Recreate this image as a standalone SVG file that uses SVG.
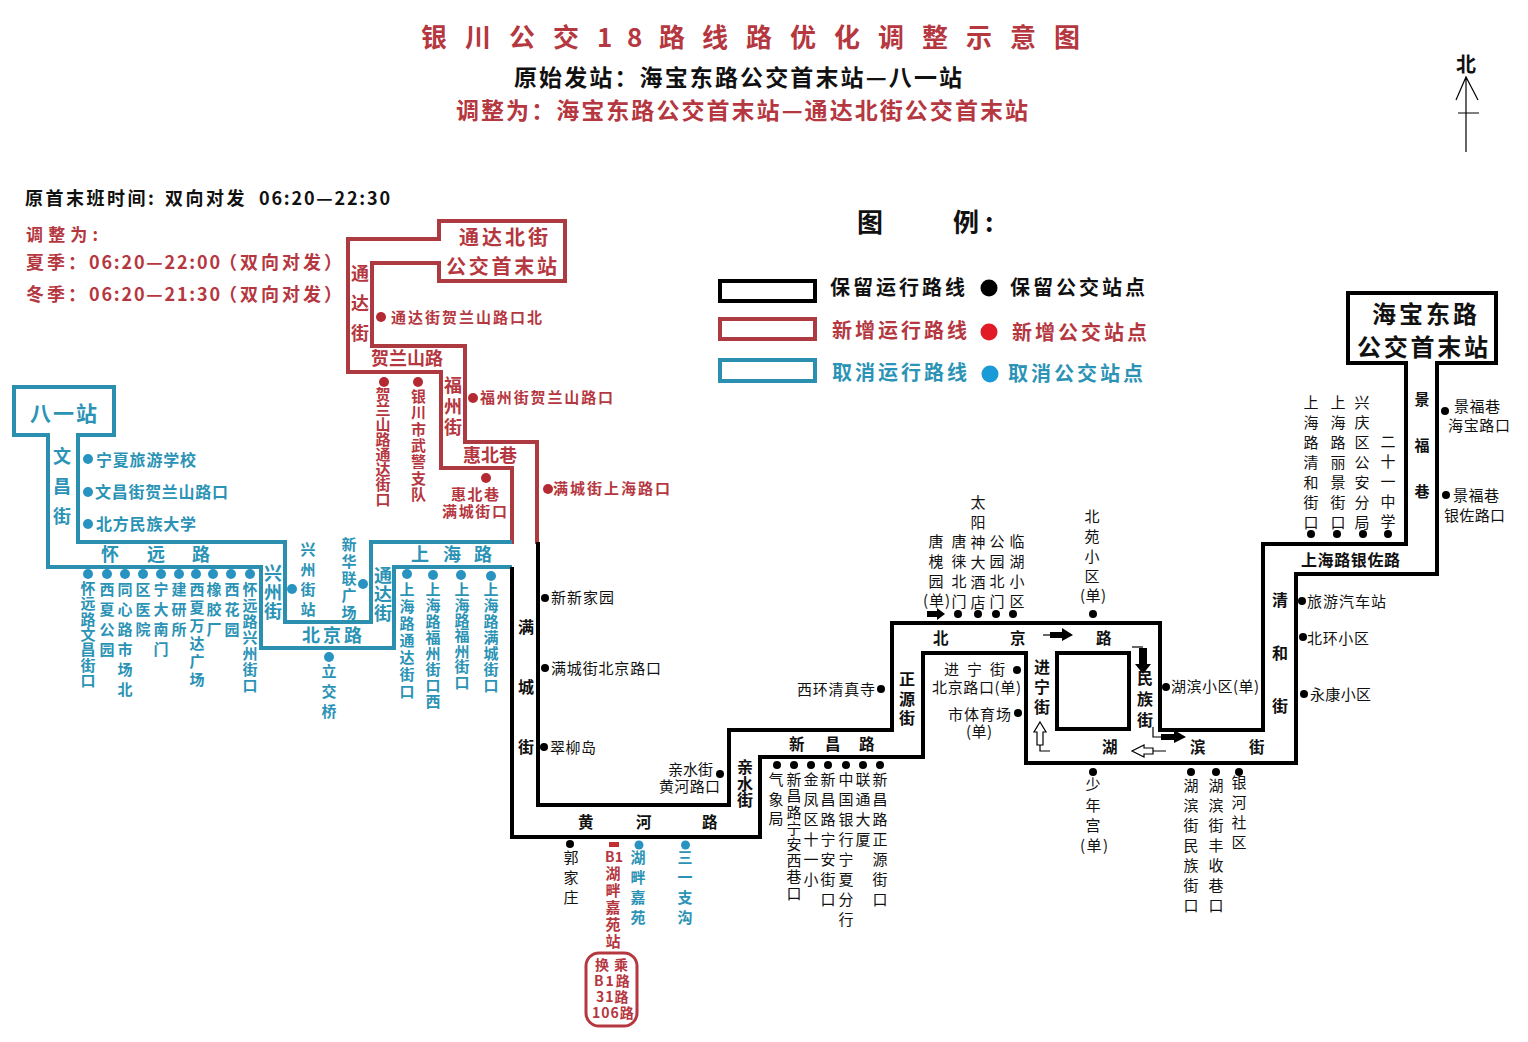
<svg xmlns="http://www.w3.org/2000/svg" width="1528" height="1042" viewBox="0 0 1528 1042">
<style>
text{font-family:"Noto Sans CJK SC","Noto Sans",sans-serif;font-size:15px;fill:#111}
.v{writing-mode:vertical-rl}
.bd{font-weight:700}
.md{font-weight:500}
.r{fill:#b5373f;font-weight:700}
.b{fill:#2b93b5;font-weight:700}
.route{fill:none;stroke-width:4;stroke-linejoin:miter}
.kl{stroke:#000}.rl{stroke:#ad3a40}.bl{stroke:#2b8fb0}
circle.k{fill:#000}circle.rd{fill:#b52a32}circle.bu{fill:#2893c0}
.thin{fill:none;stroke:#000;stroke-width:1.2}
.white{fill:#fff;stroke:#000;stroke-width:1.2}
</style>
<rect width="1528" height="1042" fill="#fff"/>

<g id="title">
<text class="r" style="font-size:26px" y="47" x="421 465 509 553 597 627 659 702 746 790 834 878 922 966 1010 1054">银川公交18路线路优化调整示意图</text>
<text class="bd" style="font-size:23px" x="514" y="86" textLength="448" lengthAdjust="spacing">原始发站：海宝东路公交首末站—八一站</text>
<text class="r" style="font-size:23px" x="456" y="119" textLength="572" lengthAdjust="spacing">调整为：海宝东路公交首末站—通达北街公交首末站</text>
</g>
<g id="north">
<text class="bd" style="font-size:20px" x="1466" y="72" text-anchor="middle">北</text>
<path class="thin" d="M1466 77V152M1456 100L1466 77L1478 100M1458 113H1479"/>
</g>
<g id="times">
<text class="bd" style="font-size:18px" y="205" letter-spacing="2.500"><tspan x="25">原首末班时间:</tspan><tspan x="165">双向对发</tspan><tspan x="259" letter-spacing="1.8">06:20—22:30</tspan></text>
<text class="r" style="font-size:17px" x="26" y="241" textLength="72" lengthAdjust="spacing">调整为:</text>
<text class="r" style="font-size:18px" y="269" letter-spacing="3"><tspan x="26">夏季：</tspan><tspan x="89" letter-spacing="1.8">06:20—22:00</tspan><tspan x="219">（双向对发）</tspan></text>
<text class="r" style="font-size:18px" y="301" letter-spacing="3"><tspan x="26">冬季：</tspan><tspan x="89" letter-spacing="1.8">06:20—21:30</tspan><tspan x="219">（双向对发）</tspan></text>
</g>

<g id="legend">
<text class="bd" style="font-size:26px" x="857" y="232">图</text>
<text class="bd" style="font-size:26px" y="232" x="953 985">例:</text>
<rect class="route kl" x="720" y="281" width="95" height="20"/>
<rect class="route rl" x="720" y="319" width="95" height="20"/>
<rect class="route bl" x="720" y="360" width="95" height="21"/>
<text class="bd" style="font-size:20px" x="830" y="295" textLength="135" lengthAdjust="spacing">保留运行路线</text>
<text class="bd" style="font-size:20px" x="1010" y="295" textLength="135" lengthAdjust="spacing">保留公交站点</text>
<text class="r" style="font-size:20px" x="832" y="338" textLength="135" lengthAdjust="spacing">新增运行路线</text>
<text class="r" style="font-size:20px" x="1012" y="340" textLength="135" lengthAdjust="spacing">新增公交站点</text>
<text class="b" style="font-size:20px" x="832" y="380" textLength="135" lengthAdjust="spacing">取消运行路线</text>
<text class="b" style="font-size:20px" x="1008" y="381" textLength="135" lengthAdjust="spacing">取消公交站点</text>
<circle class="k" cx="989" cy="288" r="8.5"/>
<circle cx="989" cy="332" r="8.5" fill="#e01a26"/>
<circle cx="990" cy="374" r="8.5" fill="#1a9ad6"/>
</g>

<g id="connectors">
<path class="route rl" d="M537 544V442H465V346H372V263H439V281H565V221H439V239H348V372H441V468H512V544"/>
<path class="route bl" d="M512 542H371V622H285V542H78V435H114V387H14V435H48V567H261V648H394V567H512"/>
<path class="route kl" d="M538 542V805H729V730H892V623H1160V730H1263V544H1406V363H1348V293H1496V363H1437V574H1296V763H1026V653H923V757H760V837H512V567"/>
<rect class="route kl" x="1057" y="653" width="72" height="76"/>
<rect x="586" y="953" width="51" height="73" rx="13" fill="none" stroke="#b5373f" stroke-width="3"/>
<path d="M927 611H937V608L945 614L937 620V617H927Z" fill="#000"/>
<path class="thin" d="M1043 635H1055"/><path d="M1050 632H1062V628L1073 635L1062 641V638H1050Z" fill="#000"/>
<path class="thin" d="M1132 647H1143"/><path d="M1139 648H1147V664H1151L1143 674L1135 664H1139Z" fill="#000"/>
<path class="thin" d="M1153 727V737H1163"/><path d="M1161 734H1174V730L1186 737L1174 743V740H1161Z" fill="#000"/>
<path class="white" d="M1166 751H1153M1153 748V754L1144 754V757L1132 751L1144 745V748Z"/>
<path class="white" d="M1040 722L1046 732H1043V745H1037V732H1034Z"/>
<path class="thin" d="M1040 745V751H1050"/>
</g>

<g id="station-haibao"><text class="bd" style="font-size:24px" x="1372" y="323" textLength="105" lengthAdjust="spacing">海宝东路</text><text class="bd" style="font-size:24px" x="1357" y="356" textLength="131" lengthAdjust="spacing">公交首末站</text></g>
<g id="station-tongda"><text class="r" style="font-size:20px" x="459" y="245" textLength="89" lengthAdjust="spacing">通达北街</text><text class="r" style="font-size:20px" x="446" y="274" textLength="111" lengthAdjust="spacing">公交首末站</text></g>
<g id="station-bayi"><text class="b" style="font-size:21px" x="30" y="421" textLength="67" lengthAdjust="spacing">八一站</text></g>

<g id="road-labels-red">
<text class="r v" style="font-size:18px" x="360" y="264" letter-spacing="12">通达街</text>
<text class="r" style="font-size:18px" x="371" y="365" textLength="72" lengthAdjust="spacing">贺兰山路</text>
<text class="r v" style="font-size:18px" x="453" y="376" letter-spacing="3">福州街</text>
<text class="r" style="font-size:18px" x="463" y="462" textLength="54" lengthAdjust="spacing">惠北巷</text>
</g>
<g id="road-labels-blue">
<text class="b v" style="font-size:18px" x="62" y="447" letter-spacing="12">文昌街</text>
<text class="b" style="font-size:18px" y="561" x="101 147 192">怀远路</text>
<text class="b" style="font-size:18px" y="561" x="411 443 474">上海路</text>
<text class="b v" style="font-size:18px" x="273" y="564" letter-spacing="1">兴州街</text>
<text class="b v" style="font-size:18px" x="383" y="566" letter-spacing="1">通达街</text>
<text class="b" style="font-size:18px" x="302" y="642" textLength="60" lengthAdjust="spacing">北京路</text>
</g>
<g id="road-labels-black" class="bd">
<text class="bd v" style="font-size:16px" x="526" y="619" letter-spacing="44">满城街</text>
<text class="bd v" style="font-size:16px" x="745" y="759" letter-spacing="0.5">亲水街</text>
<text class="bd" style="font-size:15.5px" y="828" x="578 636 702">黄河路</text>
<text class="bd" style="font-size:15.5px" y="750" x="789 825 859">新昌路</text>
<text class="bd v" style="font-size:16px" x="907" y="671" letter-spacing="3.5">正源街</text>
<text class="bd" style="font-size:15.5px" y="644" x="933 1010 1096">北京路</text>
<text class="bd v" style="font-size:16px" x="1042" y="659" letter-spacing="4">进宁街</text>
<text class="bd v" style="font-size:16px" x="1145" y="670" letter-spacing="5">民族街</text>
<text class="bd" style="font-size:15.5px" y="753" x="1102 1190 1249">湖滨街</text>
<text class="bd v" style="font-size:16px" x="1280" y="592" letter-spacing="37">清和街</text>
<text class="bd" style="font-size:16px" x="1301" y="566" textLength="99" lengthAdjust="spacing">上海路银佐路</text>
<text class="bd v" x="1422" y="392" letter-spacing="31">景福巷</text>
</g>

<g id="stops-red">
<g id="r1"><circle class="rd" cx="381" cy="317" r="5"/><text class="r" x="391" y="323" textLength="151" lengthAdjust="spacing">通达街贺兰山路口北</text></g>
<g id="r2"><circle class="rd" cx="473" cy="398" r="5"/><text class="r" x="480" y="403" textLength="133" lengthAdjust="spacing">福州街贺兰山路口</text></g>
<g id="r3"><circle class="rd" cx="384" cy="382" r="5"/><text class="r v" x="383" y="387">贺兰山路通达街口</text></g>
<g id="r4"><circle class="rd" cx="418" cy="382" r="5"/><text class="r v" x="418.500" y="389" letter-spacing="1.3">银川市武警支队</text></g>
<g id="r5"><circle class="rd" cx="486" cy="478" r="5"/><text class="r" x="451" y="500" textLength="48" lengthAdjust="spacing">惠北巷</text><text class="r" x="442" y="517" textLength="65" lengthAdjust="spacing">满城街口</text></g>
<g id="r6"><circle class="rd" cx="548" cy="489" r="5"/><text class="r" x="553" y="494" textLength="117" lengthAdjust="spacing">满城街上海路口</text></g>
<g id="r7"><rect x="609" y="842" width="10" height="5" fill="#c03030"/><text class="r" style="font-size:14px" x="614" y="862" text-anchor="middle">B1</text><text class="r v" style="font-size:15px" x="613" y="866" letter-spacing="2">湖畔嘉苑站</text></g>
<g id="r8"><text class="r" style="font-size:14px"><tspan x="595" y="970" letter-spacing="5">换乘</tspan><tspan x="594" y="986" letter-spacing="2">B1路</tspan><tspan x="596" y="1002" letter-spacing="1">31路</tspan><tspan x="592" y="1018" letter-spacing="1">106路</tspan></text></g>
</g>

<g id="stops-blue">
<g id="b1"><circle class="bu" cx="88" cy="459" r="5"/><text class="b" style="font-size:16px" x="96" y="466" textLength="100" lengthAdjust="spacing">宁夏旅游学校</text></g>
<g id="b2"><circle class="bu" cx="88" cy="492" r="5"/><text class="b" style="font-size:16px" x="95" y="498" textLength="133" lengthAdjust="spacing">文昌街贺兰山路口</text></g>
<g id="b3"><circle class="bu" cx="88" cy="524" r="5"/><text class="b" style="font-size:16px" x="96" y="530" textLength="100" lengthAdjust="spacing">北方民族大学</text></g>
<g id="b4"><circle class="bu" cx="88" cy="574" r="5"/><text class="b v" x="88" y="581" letter-spacing="0.3">怀远路文昌街口</text></g>
<g id="b5"><circle class="bu" cx="107" cy="574" r="5"/><text class="b v" x="107" y="582" letter-spacing="5">西夏公园</text></g>
<g id="b6"><circle class="bu" cx="125" cy="574" r="5"/><text class="b v" x="125" y="582" letter-spacing="5">同心路市场北</text></g>
<g id="b7"><circle class="bu" cx="143" cy="574" r="5"/><text class="b v" x="143" y="582" letter-spacing="5">区医院</text></g>
<g id="b8"><circle class="bu" cx="161" cy="574" r="5"/><text class="b v" x="161" y="582" letter-spacing="5">宁大南门</text></g>
<g id="b9"><circle class="bu" cx="179" cy="574" r="5"/><text class="b v" x="179" y="582" letter-spacing="5">建研所</text></g>
<g id="b10"><circle class="bu" cx="196" cy="574" r="5"/><text class="b v" x="197" y="582" letter-spacing="3">西夏万达广场</text></g>
<g id="b11"><circle class="bu" cx="213" cy="574" r="5"/><text class="b v" x="214" y="582" letter-spacing="5">橡胶厂</text></g>
<g id="b12"><circle class="bu" cx="231" cy="574" r="5"/><text class="b v" x="232" y="582" letter-spacing="5">西花园</text></g>
<g id="b13"><circle class="bu" cx="250" cy="574" r="5"/><text class="b v" x="250" y="582" letter-spacing="1">怀远路兴州街口</text></g>
<g id="b14"><circle class="bu" cx="292" cy="589" r="5"/><text class="b v" x="308" y="542" letter-spacing="5">兴州街站</text></g>
<g id="b15"><circle class="bu" cx="363" cy="584" r="5"/><text class="b v" style="font-size:15px" x="349" y="537" letter-spacing="2">新华联广场</text></g>
<g id="b16"><circle class="bu" cx="329" cy="657" r="5"/><text class="b v" x="329" y="664" letter-spacing="5">立交桥</text></g>
<g id="b17"><circle class="bu" cx="407" cy="574" r="5"/><text class="b v" x="407" y="582" letter-spacing="2">上海路通达街口</text></g>
<g id="b18"><circle class="bu" cx="433" cy="575" r="5"/><text class="b v" x="433" y="582" letter-spacing="1">上海路福州街口西</text></g>
<g id="b19"><circle class="bu" cx="461" cy="575" r="5"/><text class="b v" x="462" y="582" letter-spacing="0.4">上海路福州街口</text></g>
<g id="b20"><circle class="bu" cx="491" cy="576" r="5"/><text class="b v" x="491" y="582" letter-spacing="1">上海路满城街口</text></g>
<g id="b21"><circle class="bu" cx="639" cy="845" r="4.500"/><text class="b v" x="638" y="850" letter-spacing="5">湖畔嘉苑</text></g>
<g id="b22"><circle class="bu" cx="685.500" cy="845" r="4.500"/><text class="b v" x="685" y="850" letter-spacing="5">三一支沟</text></g>
</g>

<g id="stops-black">
<g id="k1"><circle class="k" cx="545" cy="598" r="4"/><text x="551" y="603" textLength="63" lengthAdjust="spacing">新新家园</text></g>
<g id="k2"><circle class="k" cx="545" cy="668" r="4"/><text x="551" y="674" textLength="110" lengthAdjust="spacing">满城街北京路口</text></g>
<g id="k3"><circle class="k" cx="544" cy="747" r="4"/><text x="550" y="753" textLength="46" lengthAdjust="spacing">翠柳岛</text></g>
<g id="k4"><circle class="k" cx="720" cy="774" r="4"/><text x="668" y="775" textLength="45" lengthAdjust="spacing">亲水街</text><text x="659" y="792" textLength="61" lengthAdjust="spacing">黄河路口</text></g>
<g id="k5"><circle class="k" cx="570" cy="844" r="4"/><text class="v" x="571" y="850" letter-spacing="5">郭家庄</text></g>
<g id="k6"><circle class="k" cx="777" cy="765" r="4"/><text class="v" x="776" y="772" letter-spacing="4.500">气象局</text></g>
<g id="k7"><circle class="k" cx="794" cy="765" r="4"/><text class="v" x="794" y="772" letter-spacing="1.200">新昌路宁安西巷口</text></g>
<g id="k8"><circle class="k" cx="811" cy="765" r="4"/><text class="v" x="811" y="772" letter-spacing="5">金凤区十一小</text></g>
<g id="k9"><circle class="k" cx="828" cy="765" r="4"/><text class="v" x="828" y="772" letter-spacing="5">新昌路宁安街口</text></g>
<g id="k10"><circle class="k" cx="846" cy="765" r="4"/><text class="v" x="846" y="772" letter-spacing="5">中国银行宁夏分行</text></g>
<g id="k11"><circle class="k" cx="863" cy="765" r="4"/><text class="v" x="863" y="772" letter-spacing="5">联通大厦</text></g>
<g id="k12"><circle class="k" cx="880" cy="765" r="4"/><text class="v" x="880" y="772" letter-spacing="5">新昌路正源街口</text></g>
<g id="k13"><circle class="k" cx="881" cy="689" r="4"/><text x="797" y="695" textLength="78" lengthAdjust="spacing">西环清真寺</text></g>
<g id="k14"><text class="v" x="936" y="534" letter-spacing="5">唐槐园</text><text x="923" y="606" textLength="27" lengthAdjust="spacing">(单)</text></g>
<g id="k15"><circle class="k" cx="958" cy="614" r="4"/><text class="v" x="959" y="534" letter-spacing="5">唐徕北门</text></g>
<g id="k16"><circle class="k" cx="978" cy="614" r="4"/><text class="v" x="978" y="495" letter-spacing="5">太阳神大酒店</text></g>
<g id="k17"><circle class="k" cx="996" cy="614" r="4"/><text class="v" x="997" y="534" letter-spacing="5">公园北门</text></g>
<g id="k18"><circle class="k" cx="1013" cy="614" r="4"/><text class="v" x="1017" y="534" letter-spacing="5">临湖小区</text></g>
<g id="k19"><circle class="k" cx="1093" cy="614" r="4"/><text class="v" x="1092" y="509" letter-spacing="5">北苑小区</text><text x="1080" y="601" textLength="26" lengthAdjust="spacing">(单)</text></g>
<g id="k20"><circle class="k" cx="1017" cy="670" r="4"/><text x="944" y="675" textLength="61" lengthAdjust="spacing">进宁街</text><text x="932" y="693" textLength="89" lengthAdjust="spacing">北京路口(单)</text></g>
<g id="k21"><circle class="k" cx="1018" cy="713" r="4"/><text x="948" y="720" textLength="63" lengthAdjust="spacing">市体育场</text><text x="966" y="737" textLength="26" lengthAdjust="spacing">(单)</text></g>
<g id="k22"><circle class="k" cx="1093" cy="772" r="4"/><text class="v" x="1093" y="777" letter-spacing="5.500">少年宫</text><text x="1080" y="851" textLength="28" lengthAdjust="spacing">(单)</text></g>
<g id="k23"><circle class="k" cx="1166" cy="687" r="4"/><text x="1171" y="692" textLength="88" lengthAdjust="spacing">湖滨小区(单)</text></g>
<g id="k24"><circle class="k" cx="1191" cy="772" r="4"/><text class="v" x="1191" y="778" letter-spacing="5">湖滨街民族街口</text></g>
<g id="k25"><circle class="k" cx="1216" cy="772" r="4"/><text class="v" x="1216" y="778" letter-spacing="5">湖滨街丰收巷口</text></g>
<g id="k26"><circle class="k" cx="1239" cy="772" r="4"/><text class="v" x="1239" y="775" letter-spacing="5">银河社区</text></g>
<g id="k27"><circle class="k" cx="1302" cy="601" r="4"/><text x="1307" y="607" textLength="79" lengthAdjust="spacing">旅游汽车站</text></g>
<g id="k28"><circle class="k" cx="1303" cy="637" r="4"/><text x="1307" y="644" textLength="62" lengthAdjust="spacing">北环小区</text></g>
<g id="k29"><circle class="k" cx="1304" cy="694" r="4"/><text x="1310" y="700" textLength="61" lengthAdjust="spacing">永康小区</text></g>
<g id="k30"><circle class="k" cx="1445" cy="411" r="4"/><text x="1454" y="412" textLength="46" lengthAdjust="spacing">景福巷</text><text x="1448" y="431" textLength="62" lengthAdjust="spacing">海宝路口</text></g>
<g id="k31"><circle class="k" cx="1446" cy="495" r="4"/><text x="1453" y="501" textLength="46" lengthAdjust="spacing">景福巷</text><text x="1444" y="521" textLength="61" lengthAdjust="spacing">银佐路口</text></g>
<g id="k32"><circle class="k" cx="1311" cy="534" r="4"/><text class="v" x="1311" y="395" letter-spacing="5">上海路清和街口</text></g>
<g id="k33"><circle class="k" cx="1337" cy="534" r="4"/><text class="v" x="1338" y="395" letter-spacing="5">上海路丽景街口</text></g>
<g id="k34"><circle class="k" cx="1363" cy="534" r="4"/><text class="v" x="1362" y="395" letter-spacing="5">兴庆区公安分局</text></g>
<g id="k35"><circle class="k" cx="1388" cy="534" r="4"/><text class="v" x="1388" y="434" letter-spacing="5">二十一中学</text></g>
</g>
</svg>
